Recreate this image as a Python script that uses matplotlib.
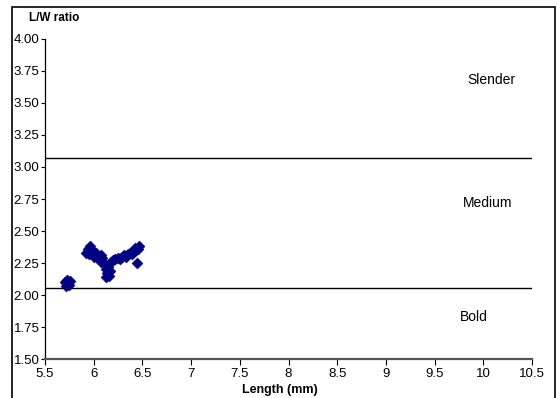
import matplotlib
matplotlib.use("Agg")
import matplotlib.pyplot as plt
from matplotlib.patches import Rectangle

plt.rcParams['font.family'] = ['Liberation Sans', 'DejaVu Sans']

# Grain length (mm) and length/width ratio of each sample
length_mm = [5.72, 5.74, 5.76, 5.73, 5.75, 5.71,
             5.92, 5.94, 5.96, 5.98, 5.95, 6.00, 6.02,
             6.05, 6.07, 6.09, 6.08,
             6.12, 6.13, 6.14, 6.13, 6.15, 6.17, 6.16,
             6.18, 6.20, 6.22, 6.25, 6.27, 6.29, 6.31, 6.33,
             6.35, 6.37, 6.39, 6.41, 6.43, 6.45, 6.46, 6.42,
             6.44]
lw_ratio = [2.07, 2.09, 2.11, 2.12, 2.08, 2.10,
            2.33, 2.36, 2.38, 2.35, 2.32, 2.30, 2.33,
            2.28, 2.31, 2.29, 2.26,
            2.24, 2.20, 2.17, 2.14, 2.22, 2.19, 2.15,
            2.26, 2.27, 2.28, 2.29, 2.28, 2.30, 2.31, 2.30,
            2.32, 2.33, 2.32, 2.34, 2.35, 2.36, 2.38, 2.37,
            2.25]

# Shape class boundaries and labels
class_limits = [2.055, 3.07]
class_names = ["Slender", "Medium", "Bold"]
class_label_pos = [(10.08, 3.68), (10.04, 2.72), (9.90, 1.83)]

x_ticks = [5.5, 6, 6.5, 7, 7.5, 8, 8.5, 9, 9.5, 10, 10.5]
x_tick_labels = ["5.5", "6", "6.5", "7", "7.5", "8", "8.5", "9", "9.5", "10", "10.5"]
y_ticks = [1.50, 1.75, 2.00, 2.25, 2.50, 2.75, 3.00, 3.25, 3.50, 3.75, 4.00]

fig = plt.figure(figsize=(5.6, 3.98), dpi=100)
ax = fig.add_axes([45 / 560, 1 - 359 / 398, (532 - 45) / 560, (359 - 39) / 398])

ax.scatter(length_mm, lw_ratio, marker="D", s=32, color="#000080",
           edgecolors="#000080", linewidths=0.3, zorder=3, clip_on=False)

for lim in class_limits:
    ax.plot([5.5, 10.5], [lim, lim], color="black", lw=1.0, zorder=2)

for name, (tx, ty) in zip(class_names, class_label_pos):
    ax.text(tx, ty, name, fontsize=10, ha="center", va="center")

ax.set_xlim(5.5, 10.5)
ax.set_ylim(1.5, 4.0)
ax.set_xticks(x_ticks)
ax.set_xticklabels(x_tick_labels)
ax.set_yticks(y_ticks)
ax.set_yticklabels([f"{v:.2f}" for v in y_ticks])
ax.tick_params(axis="x", labelsize=9.5, length=4, width=0.8, direction="out",
               pad=2.5, colors="black")
ax.tick_params(axis="y", labelsize=9.5, length=3, width=0.8, direction="out",
               pad=1, colors="black")

for side in ("top", "right"):
    ax.spines[side].set_visible(False)
ax.spines["left"].set_color("black")
ax.spines["bottom"].set_color("#555555")
ax.spines["bottom"].set_linewidth(1.6)
ax.spines["left"].set_linewidth(0.9)

fig.text(29 / 560, 1 - 18 / 398, "L/W ratio", fontsize=8.5, fontweight="bold",
         ha="left", va="center")
fig.text(280 / 560, 1 - 390 / 398, "Length (mm)", fontsize=9, fontweight="bold",
         ha="center", va="center")

# Outer frame around the chart
fig.patches.append(Rectangle((12 / 560, -0.05), (555 - 12) / 560, 1.05 - 7 / 398,
                             transform=fig.transFigure, fill=False,
                             edgecolor="black", lw=1.2))

fig.savefig("out.png", dpi=100)
